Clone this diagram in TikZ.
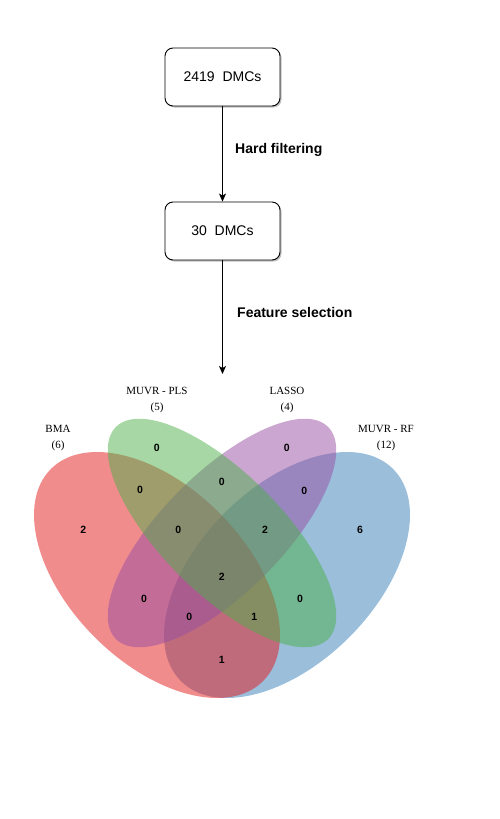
\documentclass[tikz,border=0pt]{standalone}
\usepackage{fontspec}
\setmainfont{Liberation Sans}
\newfontfamily\timesf{Liberation Serif}
\usetikzlibrary{arrows.meta,shadows}
\definecolor{setred}{HTML}{E41A1C}
\definecolor{setblue}{HTML}{377EB8}
\definecolor{setgreen}{HTML}{4DAF4A}
\definecolor{setpurple}{HTML}{984EA3}
\begin{document}
\begin{tikzpicture}[x=1pt,y=-1pt,
  box/.style={draw=black, line width=0.9pt, rounded corners=8pt,
    minimum width=115pt, minimum height=58pt, fill=white, inner sep=0pt,
    font=\fontsize{14}{16}\selectfont,
    drop shadow={shadow xshift=1.5pt, shadow yshift=-1.5pt, opacity=0.25, fill=black}},
  arr/.style={draw=black, line width=0.9pt, -{Stealth[length=8pt,width=7pt,inset=2pt]}},
  steplab/.style={font=\fontsize{14}{16}\selectfont\bfseries, anchor=west, inner sep=0pt},
  num/.style={font=\fontsize{10.5}{12}\selectfont\bfseries, inner sep=0pt},
  setlab/.style={font=\timesf\fontsize{11}{16}\selectfont, align=center, inner sep=0pt},
  venn/.style={fill opacity=0.5}]
\useasboundingbox (0,0) rectangle (500,819);

% flow
\node[box] (b1) at (222.5,77) {2419\ \ DMCs};
\node[box] (b2) at (222.5,231) {30\ \ DMCs};
\coordinate (vtop) at (222.5,374);
\draw[arr] (b1) -- (b2);
\draw[arr] (b2) -- (vtop);
\node[steplab] (l1) at (235,150) {Hard filtering};
\node[steplab] (l2) at (237,312) {Feature selection};

% venn ellipses (drawing order: RF, BMA, LASSO, PLS)
\fill[venn, setblue, rotate around={45:(287,575)}] (287,575) ellipse [x radius=150pt, y radius=88pt];
\fill[venn, setred, rotate around={-45:(157,575)}] (157,575) ellipse [x radius=150pt, y radius=88pt];
\fill[venn, setpurple, rotate around={45:(222,533)}] (222,533) ellipse [x radius=150pt, y radius=60pt];
\fill[venn, setgreen, rotate around={-45:(222,533)}] (222,533) ellipse [x radius=150pt, y radius=60pt];

% set labels
\node[setlab] (sBMA) at (58,438) {BMA\\(6)};
\node[setlab] (sPLS) at (157,400) {MUVR - PLS\\(5)};
\node[setlab] (sLASSO) at (287,400) {LASSO\\(4)};
\node[setlab] (sRF) at (386,438) {MUVR - RF\\(12)};

% counts
\node[num] (g) at (156.7,447.7) {0};
\node[num] (p) at (286.7,447.7) {0};
\node[num] (rg) at (140,490) {0};
\node[num] (gp) at (221.7,481.7) {0};
\node[num] (pb) at (304.3,491) {0};
\node[num] (r) at (83.3,530) {2};
\node[num] (rgp) at (178.3,530) {0};
\node[num] (gpb) at (265,530) {2};
\node[num] (b) at (360,530) {6};
\node[num] (rgpb) at (221.7,577.3) {2};
\node[num] (rp) at (144,599) {0};
\node[num] (gb) at (300,599) {0};
\node[num] (rpb) at (189.3,616.7) {0};
\node[num] (rgb) at (254.3,616.7) {1};
\node[num] (rb) at (221.7,660) {1};
\end{tikzpicture}
\end{document}
